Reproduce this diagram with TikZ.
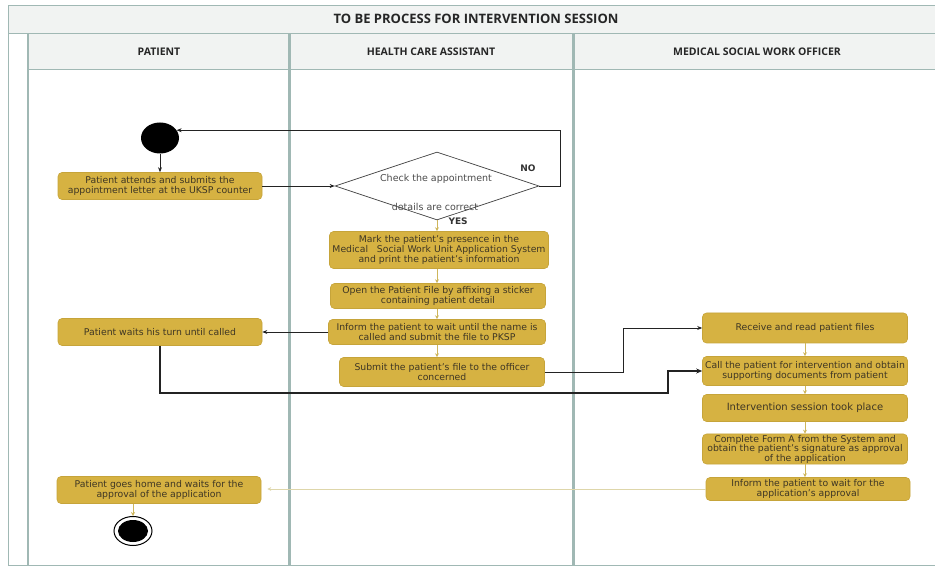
\documentclass[tikz,border=0pt]{standalone}
\usepackage{fontspec}
\setmainfont{DejaVu Sans}
\newfontfamily\hdfont{Open Sans}
\usetikzlibrary{shapes.geometric,arrows.meta,calc}
\definecolor{boxfill}{RGB}{214,178,66}
\definecolor{boxdraw}{RGB}{198,164,58}
\definecolor{lanec}{RGB}{160,184,180}
\definecolor{headfill}{RGB}{241,243,242}
\definecolor{flowy}{RGB}{206,182,92}
\definecolor{palel}{RGB}{222,214,170}
\definecolor{txt}{RGB}{62,54,36}
\definecolor{lnk}{RGB}{35,35,35}
\tikzset{
  box/.style={rectangle, rounded corners=4pt, fill=boxfill, draw=boxdraw, line width=0.6pt,
    text=txt, font=\fontsize{9.3}{10}\selectfont, align=center, inner sep=1pt},
  hdr/.style={font=\hdfont\bfseries\fontsize{10.5}{12}\selectfont, text=black!85},
  dtext/.style={font=\fontsize{9.5}{10}\selectfont, text=black!70},
  lbl/.style={font=\bfseries\fontsize{9}{10}\selectfont, text=black!80},
  arr/.style={draw=lnk, line width=0.7pt, -{Stealth[length=5pt,width=4pt]}},
  arrthick/.style={draw=lnk, line width=1.3pt, -{Stealth[length=6pt,width=5pt]}},
  yarr/.style={draw=flowy, line width=1pt, -{Stealth[length=4pt,width=4pt]}},
  palearr/.style={draw=palel, line width=1pt, -{Stealth[length=4pt,width=4pt]}, shorten >=6pt},
  lane/.style={draw=lanec, line width=3pt},
  thin/.style={draw=lanec, line width=1pt}
}
\begin{document}
\begin{tikzpicture}[x=1pt,y=-1pt]
\useasboundingbox (0,0) rectangle (935,569);
% pool and lanes
\fill[headfill] (8,6) rectangle (935,34);
\fill[headfill] (28,34) rectangle (935,70);
\draw[thin] (8,6) -- (935,6);
\draw[thin] (8,34) -- (935,34);
\draw[thin] (28,70) -- (935,70);
\draw[thin] (8,6) -- (8,565);
\draw[thin] (8,565) -- (935,565);
\draw[draw=lanec, line width=2pt] (28,34) -- (28,565);
\draw[lane] (289,34) -- (289,565);
\draw[lane] (573,34) -- (573,565);
\node[hdr, font=\hdfont\fontsize{13}{14}\selectfont\bfseries] (title) at (476,19) {TO BE PROCESS FOR INTERVENTION SESSION};
\node[hdr] (h1) at (159,52) {PATIENT};
\node[hdr] (h2) at (431,52) {HEALTH CARE ASSISTANT};
\node[hdr] (h3) at (757,52) {MEDICAL SOCIAL WORK OFFICER};
% nodes
\node[ellipse, fill=black, minimum width=38pt, minimum height=31pt, inner sep=0pt] (S) at (160,138) {};
\node[box, minimum width=204pt, minimum height=27pt] (A1) at (160,186) {Patient attends and submits the\\appointment letter at the UKSP counter};
\node[diamond, draw=black!75, fill=white, line width=0.7pt, minimum width=204pt, minimum height=68pt, shape aspect=3, inner sep=0pt] (D) at (437,186) {};
\node[dtext] (Dt1) at (436,179) {Check the appointment};
\node[dtext] (Dt2) at (435,207) {details are correct};
\node[lbl] (no) at (528,168) {NO};
\node[lbl, anchor=west] (yes) at (445,221) {YES};
\node[box, minimum width=219pt, minimum height=37pt] (B1) at (439,250) {Mark the patient's presence in the\\Medical\ \ \ Social Work Unit Application System\\and print the patient's information};
\node[box, minimum width=215pt, minimum height=25pt] (B2) at (438,296) {Open the Patient File by affixing a sticker\\containing patient detail};
\node[box, minimum width=217pt, minimum height=25pt] (B3) at (437,332) {Inform the patient to wait until the name is\\called and submit the file to PKSP};
\node[box, minimum width=205pt, minimum height=29pt] (B4) at (442,372) {Submit the patient's file to the officer\\concerned};
\node[box, minimum width=204pt, minimum height=27pt] (P2) at (160,332) {Patient waits his turn until called};
\node[box, minimum width=205pt, minimum height=30pt] (C1) at (805,328) {Receive and read patient files};
\node[box, minimum width=205pt, minimum height=29pt] (C2) at (805,371) {Call the patient for intervention and obtain\\supporting documents from patient};
\node[box, minimum width=205pt, minimum height=27pt, font=\fontsize{10}{11}\selectfont] (C3) at (805,408) {Intervention session took place};
\node[box, minimum width=205pt, minimum height=30pt, font=\fontsize{9.3}{9.5}\selectfont] (C4) at (805,449) {Complete Form A from the System and\\obtain the patient's signature as approval\\of the application};
\node[box, minimum width=204pt, minimum height=23pt] (C5) at (808,489) {Inform the patient to wait for the\\application's approval};
\node[box, minimum width=204pt, minimum height=27pt] (P3) at (159,490) {Patient goes home and waits for the\\approval of the application};
\node[ellipse, draw=black, fill=white, line width=1pt, minimum width=38pt, minimum height=29pt, inner sep=0pt] (E) at (133,531) {};
\node[ellipse, fill=black, minimum width=30pt, minimum height=22pt, inner sep=0pt] (Ein) at (E.center) {};
% helper coordinates
\coordinate (nox) at (560,130);
\coordinate (k1) at (668,393);
\coordinate (k2) at (623,372);
% connectors
\draw[arr] (S.south) -- (A1.north);
\draw[arr] (A1.east) -- (D.west);
\draw[arr] (D.east) -- (D.east -| nox) |- (S.25);
\draw[yarr] (D.south) -- (D.south |- B1.north);
\draw[yarr] (B1.south -| D.south) -- (D.south |- B2.north);
\draw[yarr] (B2.south -| D.south) -- (D.south |- B3.north);
\draw[yarr] (B3.south -| D.south) -- (D.south |- B4.north);
\draw[arr] (B3.west) -- (P2.east);
\draw[arr] (B4.east) -- (B4.east -| k2) |- (C1.west);
\draw[arrthick] (P2.south) |- (k1) |- (C2.west);
\draw[yarr] (C1.south) -- (C2.north);
\draw[yarr] (C2.south) -- (C3.north);
\draw[yarr] (C3.south) -- (C4.north);
\draw[yarr] (C4.south) -- (C4.south |- C5.north);
\draw[palearr] (C5.west) -- (C5.west -| P3.east);
\draw[yarr] (P3.south -| E.north) -- (E.north);
\end{tikzpicture}
\end{document}
